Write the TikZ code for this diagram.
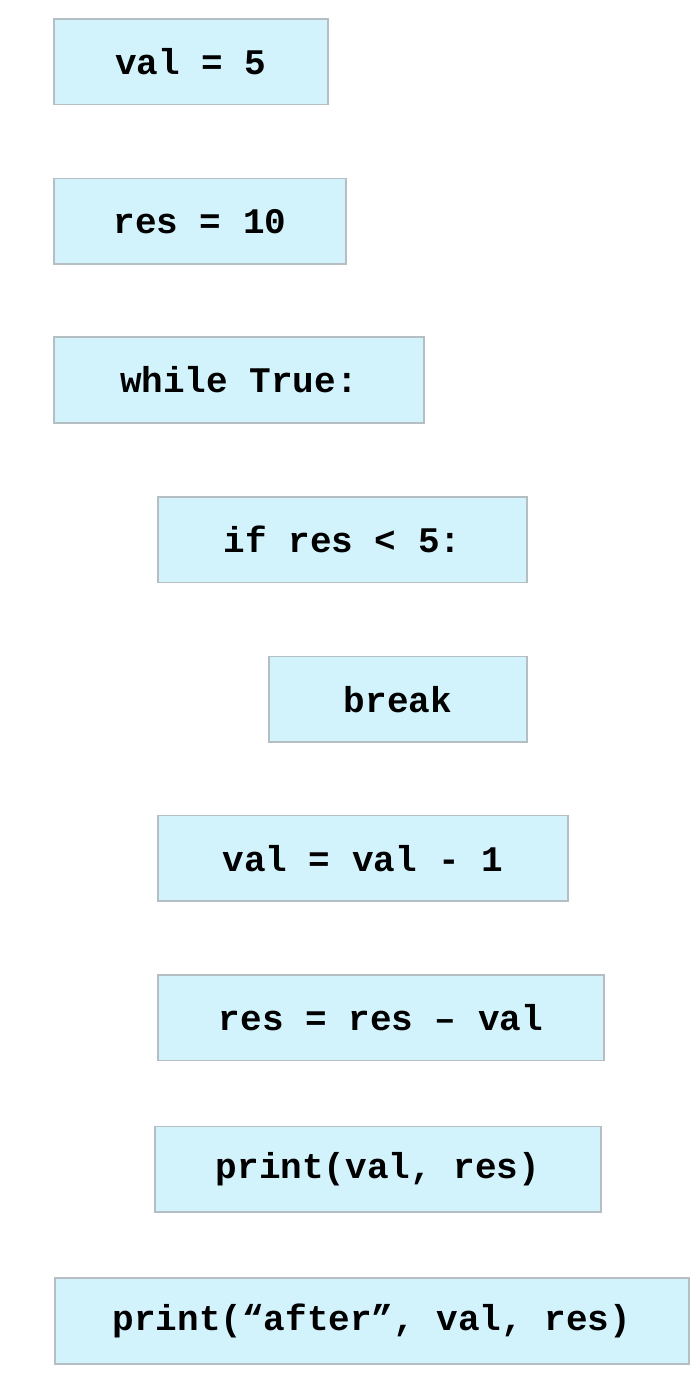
\documentclass[tikz,border=0pt]{standalone}
\usepackage{fontspec}
\newfontfamily\codefont{Liberation Mono}
\usetikzlibrary{positioning}
\definecolor{boxfill}{HTML}{D3F3FC}
\definecolor{boxline}{HTML}{B4BEC3}

\begin{document}
\begin{tikzpicture}[
    line/.style={draw=boxline, fill=boxfill, line width=0.8pt,
        minimum height=42.8pt, inner sep=0pt, outer sep=0pt, anchor=north west,
        font=\codefont\bfseries\fontsize{18}{22}\selectfont}
    ]
    \useasboundingbox (0,0) rectangle (350pt,-700pt);
    \node[line, minimum width=137pt] (val) at (27pt,-9.5pt) {val = 5};
    \node[line, minimum width=146pt, below=37pt of val.south west, anchor=north west] (res) {res = 10};
    \node[line, minimum width=185pt, below=36.5pt of res.south west, anchor=north west] (loop) {while True:};
    \node[line, minimum width=184.5pt, below=37pt of loop.south west, anchor=north west, xshift=52pt] (cond) {if res < 5:};
    \node[line, minimum width=129pt, below=37pt of cond.south west, anchor=north west, xshift=55.5pt] (brk) {break};
    \node[line, minimum width=205pt, below=37pt of cond.south west, anchor=north west, yshift=-79.5pt] (dec) {val = val - 1};
    \node[line, minimum width=223pt, below=37pt of dec.south west, anchor=north west] (sub) {res = res – val};
    \node[line, minimum width=223pt, below=33pt of sub.south west, anchor=north west, xshift=-1.5pt] (show) {print(val, res)};
    \node[line, minimum width=317pt, below=33pt of show.south west, anchor=north west, xshift=-50pt] (after) {print(“after”, val, res)};
\end{tikzpicture}
\end{document}
